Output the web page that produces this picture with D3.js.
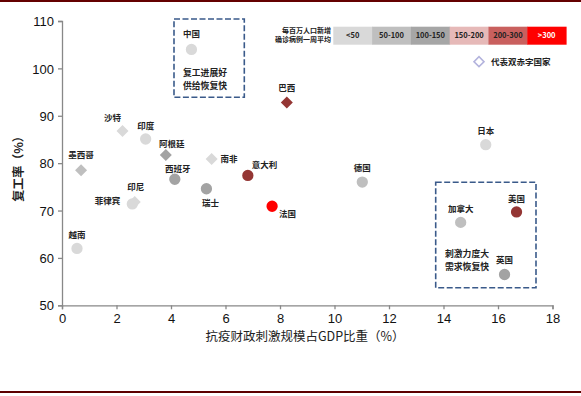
<!DOCTYPE html>
<html>
<head>
<meta charset="utf-8">
<script src="https://cdn.jsdelivr.net/npm/d3@7"></script>
<style>
  body { margin: 0; background: #fff; }
  svg text { font-family: "Noto Sans CJK SC", sans-serif; }
  .tick text { font-family: "Liberation Sans", Arial, sans-serif; font-size: 13px; fill: #111; }
</style>
</head>
<body>
<div id="chart"></div>
<script>
// data
var countries = ["中国","巴西","沙特","印度","阿根廷","南非","墨西哥","西班牙","瑞士","意大利","印尼","菲律宾","越南","法国","日本","德国","美国","加拿大","英国"];
var stimulus  = [4.75, 8.25, 2.22, 3.07, 3.81, 5.49, 0.70, 4.14, 5.30, 6.82, 2.67, 2.58, 0.55, 7.71, 15.55, 11.02, 16.68, 14.63, 16.24];
var resumption = [104.0, 92.8, 86.8, 85.1, 81.7, 80.9, 78.5, 76.6, 74.6, 77.4, 71.8, 71.4, 62.0, 70.9, 83.9, 76.0, 69.7, 67.5, 56.5];
var caseBand = ["<50","200-300","<50","<50","100-150","<50","50-100","100-150","100-150","200-300","<50","<50","<50",">300","<50","50-100","200-300","50-100","100-150"];
var doubleDeficit = [false,true,true,false,true,true,true,false,false,false,true,false,false,false,false,false,false,false,false];
var bands = ["<50","50-100","100-150","150-200","200-300",">300"];
var xTicks = [0,2,4,6,8,10,12,14,16,18];
var yTicks = [50,60,70,80,90,100,110];

// label placement: [dx, dy, anchor]
var labelPos = {
  "中国":[0,-15,"middle"], "巴西":[0,-14,"middle"], "沙特":[-10,-13,"middle"], "印度":[0,-13,"middle"],
  "阿根廷":[6,-11,"middle"], "南非":[9,0,"start"], "墨西哥":[0,-15,"middle"], "西班牙":[3,-10,"middle"],
  "瑞士":[4,14,"middle"], "意大利":[4,-10,"start"], "印尼":[1,-15,"middle"], "菲律宾":[-12,-3,"end"],
  "越南":[0,-13,"middle"], "法国":[7,8,"start"], "日本":[0,-14,"middle"], "德国":[0,-14,"middle"],
  "美国":[0,-13,"middle"], "加拿大":[0,-13,"middle"], "英国":[0,-14,"middle"]
};

var W = 581, H = 396;
var svg = d3.select("#chart").append("svg").attr("width", W).attr("height", H);

// frame lines
svg.append("rect").attr("x",0).attr("y",0).attr("width",W).attr("height",2).attr("fill","#640000");
svg.append("rect").attr("x",0).attr("y",391).attr("width",W).attr("height",2).attr("fill","#5c0000");

var x = d3.scaleLinear().domain([0,18]).range([62,552.5]);
var y = d3.scaleLinear().domain([50,110]).range([305.3,21]);

var legendColor = d3.scaleOrdinal().domain(bands).range(["#d9d9d9","#bfbfbf","#a6a6a6","#e6b9b8","#c9605e","#ff0000"]);
var pointColor = d3.scaleOrdinal().domain(bands).range(["#d9d9d9","#bfbfbf","#a3a3a3","#e6b9b8","#943634","#ff0000"]);

var xAxis = svg.append("g").attr("transform","translate(0,"+y(50)+")")
  .call(d3.axisBottom(x).tickValues(xTicks).tickSize(4).tickPadding(4));
var yAxis = svg.append("g").attr("transform","translate("+x(0)+",0)")
  .call(d3.axisLeft(y).tickValues(yTicks).tickSize(4).tickPadding(4));
[xAxis,yAxis].forEach(function(a){
  a.select(".domain").attr("stroke","#888").attr("stroke-width",1.3);
  a.selectAll(".tick line").attr("stroke","#888").attr("stroke-width",1.3);
});
yAxis.selectAll(".tick text").attr("dy","0.36em");

// axis titles
svg.append("text").attr("transform","translate(23,166) rotate(-90)")
  .attr("text-anchor","middle").attr("font-size",12).attr("font-weight",700).attr("fill","#222")
  .text("复工率（%）");
svg.append("text").attr("x",305).attr("y",341).attr("text-anchor","middle")
  .attr("font-size",12.5).attr("fill","#222").text("抗疫财政刺激规模占GDP比重（%）");

// dashed boxes
var boxes = [[174,19,70.3,78.3],[435.7,182.3,100.3,105.4]];
svg.selectAll(".box").data(boxes).enter().append("rect")
  .attr("x",function(d){return d[0];}).attr("y",function(d){return d[1];})
  .attr("width",function(d){return d[2];}).attr("height",function(d){return d[3];})
  .attr("fill","none").attr("stroke","#3a5a8a").attr("stroke-width",1.6).attr("stroke-dasharray","6,2.5");

function note(lines, cx, cy) {
  lines.forEach(function(t,i){
    svg.append("text").attr("x",cx).attr("y",cy+i*12.5).attr("text-anchor","middle")
      .attr("font-size",8.8).attr("font-weight",700).attr("fill","#222").text(t);
  });
}
note(["复工进展好","供给恢复快"], 205, 76);
note(["刺激力度大","需求恢复快"], 467, 257);

// points
var idx = d3.range(countries.length);
var marks = svg.append("g");
marks.selectAll(".pt").data(idx).enter().append("path")
  .attr("d",function(i){
    return doubleDeficit[i] ? d3.symbol().type(d3.symbolSquare).size(72)() : d3.symbol().type(d3.symbolCircle).size(100)();
  })
  .attr("transform",function(i){
    var t = "translate("+x(stimulus[i])+","+y(resumption[i])+")";
    return doubleDeficit[i] ? t+" rotate(45)" : t;
  })
  .attr("fill",function(i){return pointColor(caseBand[i]);});

marks.selectAll(".lbl").data(idx).enter().append("text")
  .attr("x",function(i){return x(stimulus[i])+labelPos[countries[i]][0];})
  .attr("y",function(i){return y(resumption[i])+labelPos[countries[i]][1];})
  .attr("dy","0.35em")
  .attr("text-anchor",function(i){return labelPos[countries[i]][2];})
  .attr("font-size",8.5).attr("font-weight",700).attr("fill","#222")
  .text(function(i){return countries[i];});

// colour legend
var cellW = 38.8, lx = 333.3, ly = 26.7;
var leg = svg.append("g");
leg.selectAll("rect").data(bands).enter().append("rect")
  .attr("x",function(d,i){return lx+i*cellW;}).attr("y",ly)
  .attr("width",cellW+0.5).attr("height",18)
  .attr("fill",function(d){return legendColor(d);});
leg.selectAll("text").data(bands).enter().append("text")
  .attr("x",function(d,i){return lx+i*cellW+cellW/2;}).attr("y",ly+9).attr("dy","0.35em")
  .attr("text-anchor","middle").attr("font-size",7.5).attr("font-weight",700)
  .attr("font-family","Liberation Sans, Arial, sans-serif")
  .attr("fill",function(d){return d===">300" ? "#fff" : "#222";})
  .text(function(d){return d;});
svg.append("text").attr("x",331).attr("y",33).attr("text-anchor","end")
  .attr("font-size",7).attr("font-weight",700).attr("fill","#222").text("每百万人口新增");
svg.append("text").attr("x",331).attr("y",42).attr("text-anchor","end")
  .attr("font-size",7).attr("font-weight",700).attr("fill","#222").text("确诊病例一周平均");

// double deficit legend
svg.append("path").attr("d",d3.symbol().type(d3.symbolSquare).size(50)())
  .attr("transform","translate(479,61.7) rotate(45)")
  .attr("fill","none").attr("stroke","#b3b3dd").attr("stroke-width",1.6);
svg.append("text").attr("x",491).attr("y",62).attr("dy","0.35em")
  .attr("font-size",8.5).attr("font-weight",700).attr("fill","#222").text("代表双赤字国家");
</script>
</body>
</html>
